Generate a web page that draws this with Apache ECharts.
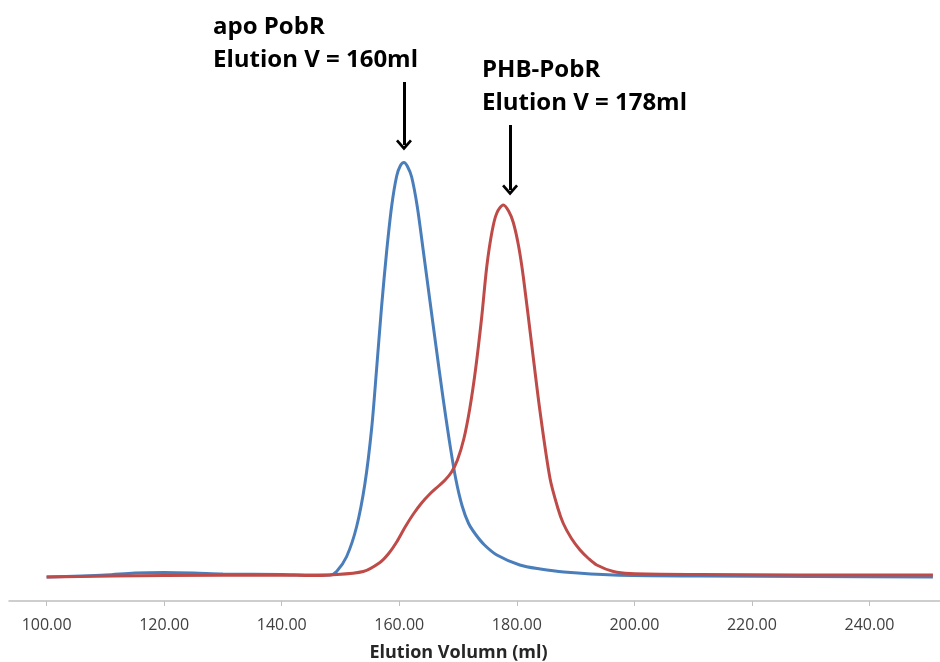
<!DOCTYPE html>
<html>
<head>
<meta charset="utf-8">
<script src="https://cdn.jsdelivr.net/npm/echarts@6/dist/echarts.min.js"></script>
<style>
  html, body { margin: 0; padding: 0; background: #fff; }
  #chart { width: 940px; height: 662px; }
</style>
</head>
<body>
<div id="chart"></div>
<script>
// elution volume (ml) and absorbance (mAU)
const apoPobR = [
  [100, 48], [110, 52], [115, 56], [120, 57], [125, 56], [130, 54], [140, 53],
  [145, 52], [148.2, 52], [149.34, 59], [151.05, 89], [152.75, 149],
  [154.16, 235], [155.3, 345], [156.15, 465], [157.0, 590], [157.86, 700],
  [158.71, 790], [159.56, 850], [160.2, 871], [160.8, 877], [161.4, 869],
  [162.11, 848], [163.06, 789], [164.09, 700], [165.22, 600], [166.3, 505],
  [167.4, 410], [168.5, 322], [169.6, 245], [170.7, 190], [171.8, 155],
  [173.0, 133], [174.5, 112], [176.6, 92], [180.5, 72], [184, 64], [188, 58],
  [196.4, 52], [211.2, 50], [230, 49], [250.8, 48]
];
const phbPobR = [
  [100, 48], [120, 51], [140, 52], [145, 51], [148.2, 52], [153.87, 59],
  [156.71, 77], [158.2, 95], [159.56, 118], [161.0, 148], [162.4, 174],
  [163.8, 196], [165.2, 214], [166.6, 229], [167.8, 242], [168.9, 258],
  [169.9, 282], [171.0, 325], [172.0, 385], [173.0, 465], [174.0, 565],
  [174.9, 670], [175.8, 740], [176.6, 776], [177.7, 792], [178.6, 780],
  [179.4, 757], [180.3, 710], [181.11, 648], [182.54, 512], [183.95, 379],
  [185.65, 245], [187.0, 185], [187.91, 155], [189.3, 125], [190.76, 102],
  [192.2, 85], [193.6, 72], [196.43, 59], [199.27, 55], [211.2, 53],
  [228.2, 52], [250.8, 52]
];
const tickValues = [100, 120, 140, 160, 180, 200, 220, 240];
// arrows: [volume, from, to]
const apoArrow = [160.8, 1038, 912];
const phbArrow = [178.85, 952, 822];

const chevron = 'path://M10,0 L20,11 L17.5,13 L10,5 L2.5,13 L0,11 Z';

function arrowLine(a) {
  return [{ coord: [a[0], a[1]] }, { coord: [a[0], a[2]] }];
}

const chart = echarts.init(document.getElementById('chart'));
chart.setOption({
  animation: false,
  grid: { left: 9, right: 0, top: 1, bottom: 61, outerBoundsMode: 'none' },
  xAxis: {
    type: 'value',
    min: 93.6,
    max: 252,
    name: 'Elution Volumn (ml)',
    nameLocation: 'middle',
    nameGap: 43,
    nameTextStyle: {
      fontFamily: 'Open Sans', fontWeight: 'bold', fontSize: 18, color: '#262626',
      padding: [0, 32, 0, 0]
    },
    axisLine: { lineStyle: { color: '#bfbfbf', width: 1.5 } },
    axisTick: { show: true, customValues: tickValues, length: 5, lineStyle: { color: '#bfbfbf' } },
    axisLabel: {
      customValues: tickValues,
      margin: 16,
      fontFamily: 'Open Sans', fontSize: 16, color: '#404040',
      formatter: v => v.toFixed(2)
    },
    splitLine: { show: false }
  },
  yAxis: {
    type: 'value', min: 0, max: 1200, show: false
  },
  graphic: [
    {
      type: 'text', left: 213, top: 11,
      style: {
        text: 'apo PobR\nElution V = 160ml',
        font: 'bold 24px "Open Sans"', fill: '#000', lineHeight: 33
      }
    },
    {
      type: 'text', left: 482, top: 54,
      style: {
        text: 'PHB-PobR\nElution V = 178ml',
        font: 'bold 24px "Open Sans"', fill: '#000', lineHeight: 33
      }
    }
  ],
  series: [
    {
      name: 'apo PobR', type: 'line', data: apoPobR, smooth: 0.3,
      showSymbol: false, clip: false,
      lineStyle: { color: '#4a7ebb', width: 3 },
      itemStyle: { color: '#4a7ebb' },
      markLine: {
        silent: true, symbol: ['none', chevron], symbolSize: [16, 11],
        label: { show: false },
        lineStyle: { color: '#000', width: 3, type: 'solid' },
        data: [arrowLine(apoArrow)]
      }
    },
    {
      name: 'PHB-PobR', type: 'line', data: phbPobR, smooth: 0.3,
      showSymbol: false, clip: false,
      lineStyle: { color: '#be4b48', width: 3 },
      itemStyle: { color: '#be4b48' },
      markLine: {
        silent: true, symbol: ['none', chevron], symbolSize: [16, 11],
        label: { show: false },
        lineStyle: { color: '#000', width: 3, type: 'solid' },
        data: [arrowLine(phbArrow)]
      }
    }
  ]
});
</script>
</body>
</html>
